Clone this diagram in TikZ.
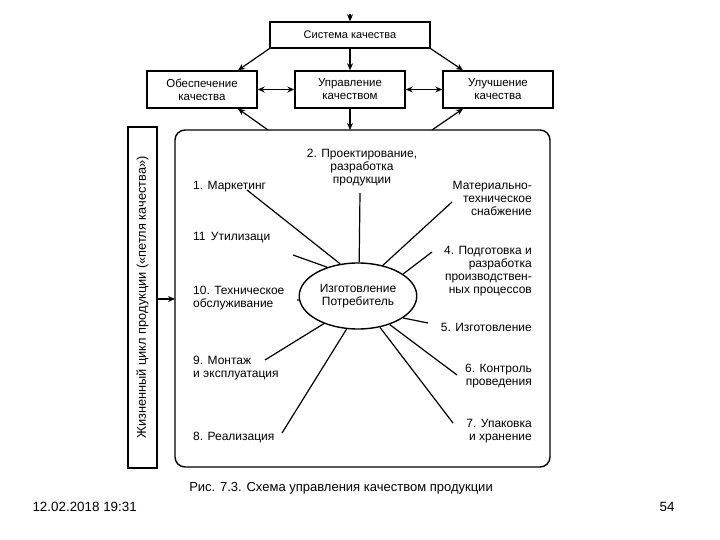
\documentclass[tikz,border=0pt]{standalone}
\usepackage{fontspec}
\setmainfont{Liberation Sans}
\usetikzlibrary{arrows.meta,shapes.geometric}
\tikzset{
  box/.style={draw, line width=1.4pt, minimum height=26pt, align=center, font=\fontsize{11.5}{13}\selectfont},
  lbl/.style={inner sep=0pt, font=\fontsize{12}{13}\selectfont},
  arr/.style={line width=1.2pt, -{Stealth[length=7pt,width=6pt]}},
  darr/.style={line width=1.2pt, {Stealth[length=7pt,width=6pt]}-{Stealth[length=7pt,width=6pt]}},
  spoke/.style={line width=1.2pt}
}
\begin{document}
\begin{tikzpicture}[x=1pt,y=-1pt]
\useasboundingbox (0,0) rectangle (720,540);
% top level
\coordinate (in) at (350,14);
\node[box, minimum width=160pt, font=\fontsize{11}{13}\selectfont] (sys) at (350,35) {Система качества};
\node[box, minimum width=110pt, minimum height=37pt] (obesp) at (202,89.5) {Обеспечение\\качества};
\node[box, minimum width=110pt, minimum height=37pt] (uprav) at (350,89.5) {Управление\\качеством};
\node[box, minimum width=110pt, minimum height=37pt] (uluch) at (498,89.5) {Улучшение\\качества};
\draw[arr] (in) -- (sys.north);
\draw[arr] (sys.south west) -- (obesp.north -| 238,0);
\draw[arr] (sys.south) -- (uprav.north);
\draw[arr] (sys.south east) -- (uluch.north -| 463,0);
\draw[darr] (obesp.east) -- (uprav.west);
\draw[darr] (uprav.east) -- (uluch.west);
% life cycle
\draw[line width=1.4pt, rounded corners=10pt] (175,130) rectangle (550,467);
\coordinate (lc-l) at (268,130);
\coordinate (lc-m) at (350,130);
\coordinate (lc-r) at (432,130);
\draw[arr] (lc-l) -- (obesp.south -| 238,0);
\draw[arr] (uprav.south) -- (lc-m);
\draw[arr] (lc-r) -- (uluch.south -| 463,0);
\node[draw, line width=1.4pt, minimum width=29pt, minimum height=341pt] (cycle) at (142.5,297.5) {};
\node[rotate=90, font=\fontsize{12.8}{14}\selectfont] at (cycle) {Жизненный цикл продукции («петля качества»)};
\draw[arr] (cycle.east |- 0,299) -- (175,299);
% centre
\node[draw, ellipse, line width=1.4pt, minimum width=110pt, minimum height=66pt, align=center, font=\fontsize{12}{13}\selectfont] (core) at (358,296) {Изготовление\\Потребитель};
% labels
\node[lbl, align=center, anchor=north] (s2) at (362,149) {2. Проектирование,\\разработка\\продукции};
\node[lbl, align=left, anchor=west] (s1) at (193,187) {1. Маркетинг};
\node[lbl, align=right, anchor=north east] (s3) at (532,181) {Материально-\\техническое\\снабжение};
\node[lbl, align=left, anchor=west] (s11) at (193,238) {11\, Утилизаци};
\node[lbl, align=right, anchor=north east] (s4) at (532,246) {4. Подготовка и\\разработка\\производствен-\\ных процессов};
\node[lbl, align=left, anchor=north west] (s10) at (193,286) {10. Техническое\\обслуживание};
\node[lbl, align=right, anchor=east] (s5) at (532,327) {5. Изготовление};
\node[lbl, align=left, anchor=north west] (s9) at (193,356) {9. Монтаж\\и эксплуатация};
\node[lbl, align=right, anchor=north east] (s6) at (532,364) {6. Контроль\\проведения};
\node[lbl, align=left, anchor=west] (s8) at (193,438) {8. Реализация};
\node[lbl, align=right, anchor=north east] (s7) at (532,419) {7. Упаковка\\и хранение};
% spoke ends
\coordinate (e1) at (247,190);
\coordinate (e2) at (360,193);
\coordinate (e3) at (452,202);
\coordinate (e11) at (293,255);
\coordinate (e4) at (432,252);
\coordinate (e10) at (297,300);
\coordinate (e5) at (428,323);
\coordinate (e9) at (265,360);
\coordinate (e6) at (457,375);
\coordinate (e8) at (282,433);
\coordinate (e7) at (453,423);
\draw[spoke] (e1) -- (core.119);
\draw[spoke] (e2) -- (core.88);
\draw[spoke] (e3) -- (core.51);
\draw[spoke] (e11) -- (core.137);
\draw[spoke] (e4) -- (core.26);
\draw[spoke] (e10) -- (core.184);
\draw[spoke] (e5) -- (core.334);
\draw[spoke] (e9) -- (core.219);
\draw[spoke] (e8) -- (core.251);
\draw[spoke] (e6) -- (core.318);
\draw[spoke] (e7) -- (core.305);
% caption and footer
\node[font=\fontsize{13}{14}\selectfont] (cap) at (341,488) {Рис. 7.3. Схема управления качеством продукции};
\node[anchor=west, font=\fontsize{13.4}{14}\selectfont] (date) at (29,507) {12.02.2018 19:31};
\node[anchor=east, font=\fontsize{13.4}{14}\selectfont] (page) at (678,507) {54};
\end{tikzpicture}
\end{document}
